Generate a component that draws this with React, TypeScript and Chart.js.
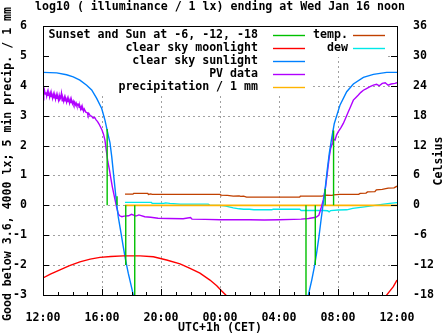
import React, { useEffect, useRef } from "react";
import { Chart, registerables } from "chart.js";

Chart.register(...registerables);

const FONT = "'DejaVu Sans Mono', 'Liberation Mono', monospace";

// x = hours since 12:00 on the previous day
const xTickLabels = ["12:00", "16:00", "20:00", "00:00", "04:00", "08:00", "12:00"];

const titleText = "log10 ( illuminance / 1 lx) ending at Wed Jan 16 noon";
const yTitle = "Good below 3.6, 4000 lx; 5 min precip. / 1 mm";
const y2Title = "Celsius";
const xTitle = "UTC+1h (CET)";

// Sunset and Sun at -6, -12, -18 (impulses from 0)
const twilightT = [4.35, 5.02, 5.61, 6.22, 17.83, 18.46, 19.13, 19.7];
const twilightV = [2.55, 0.3, -2.0, -3.5, -3.5, -2.0, 0.55, 2.5];

// clear sky moonlight
const moonT = [0, 0.5, 1.15, 1.8, 2.5, 3.2, 3.86, 4.6, 5.44, 6.58, 7.48, 8.38, 9.29, 9.97, 10.64, 11.32, 11.78, 12.1, 12.39, 12.6, null, 23.1, 23.3, 23.75, 24];
const moonV = [-2.43, -2.3, -2.16, -2.02, -1.89, -1.8, -1.74, -1.71, -1.69, -1.69, -1.72, -1.83, -1.96, -2.11, -2.27, -2.5, -2.69, -2.86, -3.0, -3.3, null, -3.3, -3.0, -2.72, -2.5];

// clear sky sunlight
const sunT = [0, 0.93, 1.6, 2.05, 2.5, 2.96, 3.3, 3.64, 3.98, 4.2, 4.42, 4.54, 4.66, 4.81, 4.95, 5.1, 5.29, 5.44, 5.6, 5.78, 5.97, 6.12, 6.3, null, 17.8, 17.99, 18.22, 18.4, 18.55, 18.71, 18.85, 19.0, 19.12, 19.27, 19.41, 19.57, 19.75, 20.14, 20.59, 21.04, 21.72, 22.4, 23.3, 24];
const sunV = [4.45, 4.43, 4.37, 4.3, 4.19, 4.02, 3.86, 3.58, 3.24, 2.85, 2.35, 2.1, 1.63, 0.91, 0.24, -0.38, -0.93, -1.38, -1.83, -2.27, -2.67, -3.0, -3.5, null, -3.5, -3.0, -2.5, -2.05, -1.6, -1.05, -0.49, 0.07, 0.51, 1.18, 1.74, 2.24, 2.74, 3.36, 3.8, 4.06, 4.28, 4.38, 4.45, 4.45];

// PV data
const pvT = [0, 0.05, 0.1, 0.15, 0.2, 0.25, 0.3, 0.35, 0.4, 0.45, 0.5, 0.55, 0.6, 0.65, 0.7, 0.75, 0.8, 0.85, 0.9, 0.95, 1.0, 1.05, 1.1, 1.15, 1.2, 1.25, 1.3, 1.35, 1.4, 1.45, 1.5, 1.55, 1.6, 1.65, 1.7, 1.75, 1.8, 1.85, 1.9, 1.95, 2.0, 2.05, 2.1, 2.15, 2.2, 2.25, 2.3, 2.4, 2.45, 2.5, 2.55, 2.6, 2.65, 2.7, 2.75, 2.8, 2.9, 3.0, 3.05, 3.1, 3.2, 3.3, 3.4, 3.5, 3.6, 3.7, 3.8, 3.9, 4.0, 4.1, 4.2, 4.3, 4.4, 4.5, 4.6, 4.7, 4.8, 4.9, 5.0, 5.1, 5.2, 5.35, 5.5, 5.8, 6.0, 6.3, 6.5, 6.9, 7.3, 7.8, 8.5, 9.5, 10.0, 10.1, 11.0, 12.0, 13.0, 14.0, 15.0, 16.0, 17.0, 17.5, 18.0, 18.5, 18.7, 18.85, 19.0, 19.16, 19.3, 19.41, 19.5, 19.6, 19.65, 19.7, 19.8, 19.9, 20.0, 20.2, 20.36, 20.5, 20.7, 20.85, 21.04, 21.2, 21.38, 21.55, 21.72, 21.9, 22.17, 22.4, 22.62, 22.8, 23.0, 23.2, 23.4, 23.6, 23.86, 24];
const pvV = [3.82, 3.7, 3.85, 3.72, 3.78, 3.65, 3.8, 3.68, 3.74, 3.62, 3.76, 3.64, 3.7, 3.58, 3.72, 3.6, 3.66, 3.55, 3.7, 3.58, 3.63, 3.52, 3.68, 3.55, 3.6, 3.75, 3.5, 3.58, 3.48, 3.62, 3.5, 3.55, 3.45, 3.58, 3.47, 3.52, 3.42, 3.55, 3.44, 3.5, 3.4, 3.48, 3.38, 3.45, 3.36, 3.42, 3.33, 3.38, 3.28, 3.32, 3.22, 3.3, 3.2, 3.25, 3.15, 3.22, 3.12, 3.1, 3.02, 3.08, 3.0, 2.98, 2.92, 2.94, 2.86, 2.8, 2.72, 2.62, 2.52, 2.38, 2.18, 1.8, 1.45, 1.2, 0.9, 0.62, 0.38, 0.15, -0.08, -0.28, -0.35, -0.38, -0.36, -0.35, -0.3, -0.36, -0.32, -0.38, -0.4, -0.43, -0.44, -0.45, -0.41, -0.46, -0.47, -0.48, -0.48, -0.48, -0.49, -0.48, -0.47, -0.46, -0.44, -0.4, -0.33, -0.1, 0.18, 0.62, 1.18, 1.63, 1.9, 2.05, 2.5, 2.2, 2.18, 2.35, 2.45, 2.6, 2.74, 2.9, 3.13, 3.3, 3.52, 3.6, 3.69, 3.78, 3.85, 3.9, 3.97, 4.02, 4.05, 4.0, 4.08, 4.1, 4.02, 4.06, 4.08, 4.1];

// precipitation / 1 mm
const precipT = [5.56, 24];
const precipV = [0, 0];

// temp. (Celsius)
const tempT = [5.56, 6.1, 6.15, 7.1, 7.15, 7.3, 7.4, 12.0, 12.05, 12.5, 12.9, 13.3, 13.4, 13.6, 13.8, 17.4, 17.45, 18.9, 19.2, 19.6, 19.7, 20.1, 21.4, 21.5, 21.9, 22.0, 22.5, 22.6, 23.0, 23.4, 23.8, 24];
const tempV = [2.25, 2.25, 2.4, 2.4, 2.2, 2.3, 2.2, 2.2, 2.05, 2.0, 1.85, 1.9, 1.8, 1.85, 1.65, 1.65, 1.85, 1.85, 2.05, 2.0, 2.1, 2.2, 2.2, 2.4, 2.45, 2.7, 2.75, 3.1, 3.2, 3.45, 3.5, 3.85];

// dew (Celsius)
const dewT = [5.56, 7.35, 7.4, 8.2, 8.3, 8.6, 9.3, 11.2, 11.3, 12.0, 12.4, 12.9, 13.3, 13.6, 14.0, 14.3, 15.5, 15.6, 17.4, 17.5, 19.0, 19.3, 19.4, 19.5, 20.0, 20.6, 21.0, 21.8, 22.5, 23.1, 23.5, 24];
const dewV = [0.6, 0.6, 0.4, 0.4, 0.5, 0.4, 0.25, 0.25, 0.05, 0.0, -0.15, -0.5, -0.7, -0.8, -0.8, -0.9, -0.9, -0.8, -0.8, -1.05, -1.05, -1.1, -1.3, -1.05, -0.95, -0.9, -0.6, -0.3, 0.0, 0.25, 0.4, 0.55];

const COLORS = {
  twilight: "#00c000",
  moon: "#ff0000",
  sun: "#0080ff",
  pv: "#b000ff",
  precip: "#ffb400",
  temp: "#c04000",
  dew: "#00e8e8",
};

const LW = 1.4;

function pts(t: (number | null)[], v: (number | null)[]) {
  return t.map((x, i) => ({ x: x === null ? NaN : x, y: v[i] }));
}

function impulses(t: number[], v: number[]) {
  const out: { x: number; y: number | null }[] = [];
  t.forEach((x, i) => {
    out.push({ x, y: 0 });
    out.push({ x, y: v[i] });
    out.push({ x, y: null });
  });
  return out;
}

const legendCol1 = [
  { label: "Sunset and Sun at -6, -12, -18", color: COLORS.twilight },
  { label: "clear sky moonlight", color: COLORS.moon },
  { label: "clear sky sunlight", color: COLORS.sun },
  { label: "PV data", color: COLORS.pv },
  { label: "precipitation / 1 mm", color: COLORS.precip },
];
const legendCol2 = [
  { label: "temp.", color: COLORS.temp },
  { label: "dew", color: COLORS.dew },
];

const gnuplotLook = {
  id: "gnuplotLook",
  beforeDatasetsDraw(chart: any) {
    const { ctx, chartArea: a, scales } = chart;
    const L = Math.round(a.left), R = Math.round(a.right), T = Math.round(a.top), B = Math.round(a.bottom);
    ctx.save();
    ctx.strokeStyle = "#a0a0a0";
    ctx.lineWidth = 1;
    ctx.setLineDash([2, 3]);
    for (let h = 4; h < 24; h += 4) {
      const x = Math.round(scales.x.getPixelForValue(h)) + 0.5;
      ctx.beginPath();
      ctx.moveTo(x, T);
      ctx.lineTo(x, B);
      ctx.stroke();
    }
    for (let v = -2; v <= 5; v++) {
      const y = Math.round(scales.y.getPixelForValue(v)) + 0.5;
      ctx.beginPath();
      ctx.moveTo(L, y);
      ctx.lineTo(R, y);
      ctx.stroke();
    }
    ctx.setLineDash([]);
    // opaque key background
    ctx.fillStyle = "#ffffff";
    ctx.fillRect(L + 5, T + 1, 262, 67);
    ctx.fillRect(L + 267, T + 1, 77, 30);
    ctx.restore();
  },
  afterDatasetsDraw(chart: any) {
    const { ctx, chartArea: a, scales } = chart;
    const L = Math.round(a.left), R = Math.round(a.right), T = Math.round(a.top), B = Math.round(a.bottom);
    ctx.save();
    ctx.strokeStyle = "#000";
    ctx.lineWidth = 1;
    ctx.setLineDash([]);
    // ticks
    ctx.beginPath();
    for (let h = 0; h <= 24; h++) {
      const x = Math.round(scales.x.getPixelForValue(h)) + 0.5;
      const len = h % 4 === 0 ? 6 : 3;
      ctx.moveTo(x, B);
      ctx.lineTo(x, B - len);
    }
    for (let v = -3; v <= 6; v++) {
      const y = Math.round(scales.y.getPixelForValue(v)) + 0.5;
      ctx.moveTo(L, y);
      ctx.lineTo(L + 6, y);
    }
    for (let v = -18; v <= 36; v += 6) {
      const y = Math.round(scales.y1.getPixelForValue(v)) + 0.5;
      ctx.moveTo(R, y);
      ctx.lineTo(R - 6, y);
    }
    ctx.stroke();
    // border
    ctx.strokeRect(L + 0.5, T + 0.5, R - L, B - T);

    // key
    ctx.font = `bold 11.6px ${FONT}`;
    ctx.fillStyle = "#000";
    ctx.textAlign = "right";
    ctx.textBaseline = "middle";
    ctx.lineWidth = LW;
    legendCol1.forEach((it, i) => {
      const y = T + 9 + i * 13;
      ctx.fillText(it.label, L + 215, y);
      ctx.strokeStyle = it.color;
      ctx.beginPath();
      ctx.moveTo(L + 230, y + 0.5);
      ctx.lineTo(L + 262, y + 0.5);
      ctx.stroke();
    });
    legendCol2.forEach((it, i) => {
      const y = T + 9 + i * 13;
      ctx.fillText(it.label, L + 305, y);
      ctx.strokeStyle = it.color;
      ctx.beginPath();
      ctx.moveTo(L + 310, y + 0.5);
      ctx.lineTo(L + 342, y + 0.5);
      ctx.stroke();
    });
    ctx.restore();
  },
  afterDraw(chart: any) {
    const { ctx, chartArea: a } = chart;
    ctx.save();
    ctx.fillStyle = "#000";
    ctx.font = `bold 11.6px ${FONT}`;
    ctx.textAlign = "center";
    ctx.textBaseline = "alphabetic";
    const cx = (a.left + a.right) / 2;
    ctx.fillText(titleText, cx, 10);
    ctx.textBaseline = "middle";
    ctx.fillText(xTitle, cx, 328);
    ctx.save();
    ctx.translate(8, 164);
    ctx.rotate(-Math.PI / 2);
    ctx.fillText(yTitle, 0, 0);
    ctx.restore();
    ctx.save();
    ctx.translate(439, 161);
    ctx.rotate(-Math.PI / 2);
    ctx.fillText(y2Title, 0, 0);
    ctx.restore();
    ctx.restore();
  },
};

export default function App() {
  const ref = useRef<HTMLCanvasElement | null>(null);
  useEffect(() => {
    if (!ref.current) return;
    const tickFont = { family: FONT, weight: "bold" as const, size: 11.6 };
    const line = (data: any[], color: string, axis: string, order: number, width = LW) => ({
      data,
      borderColor: color,
      backgroundColor: color,
      borderWidth: width,
      pointRadius: 0,
      tension: 0,
      spanGaps: false,
      fill: false,
      yAxisID: axis,
      order,
    });
    const chart = new Chart(ref.current, {
      type: "line",
      data: {
        datasets: [
          line(pts(dewT, dewV), COLORS.dew, "y1", 7),
          line(pts(tempT, tempV), COLORS.temp, "y1", 6),
          line(pts(precipT, precipV), COLORS.precip, "y", 5, 1.8),
          line(pts(pvT, pvV), COLORS.pv, "y", 4),
          line(pts(sunT, sunV), COLORS.sun, "y", 3),
          line(pts(moonT, moonV), COLORS.moon, "y", 2),
          line(impulses(twilightT, twilightV), COLORS.twilight, "y", 1),
        ] as any,
      },
      options: {
        animation: false,
        responsive: false,
        devicePixelRatio: 1,
        layout: { padding: { top: 26, left: 0, right: 0, bottom: 0 } },
        plugins: { legend: { display: false }, title: { display: false }, tooltip: { enabled: false } },
        events: [],
        scales: {
          x: {
            type: "linear",
            min: 0,
            max: 24,
            grid: { display: false },
            border: { display: false },
            afterFit: (s: any) => { s.height = 40; },
            ticks: {
              stepSize: 4,
              autoSkip: false,
              maxRotation: 0,
              padding: 8,
              color: "#000",
              font: tickFont,
              callback: (v: any) => xTickLabels[Math.round(Number(v) / 4)] ?? "",
            },
          },
          y: {
            type: "linear",
            position: "left",
            min: -3,
            max: 6,
            grid: { display: false },
            border: { display: false },
            afterFit: (s: any) => { s.width = 43; },
            ticks: { stepSize: 1, padding: 8, color: "#000", font: tickFont },
          },
          y1: {
            type: "linear",
            position: "right",
            min: -18,
            max: 36,
            grid: { display: false },
            border: { display: false },
            afterFit: (s: any) => { s.width = 50; },
            ticks: { stepSize: 6, padding: 8, color: "#000", font: tickFont },
          },
        },
      } as any,
      plugins: [gnuplotLook],
    });
    return () => chart.destroy();
  }, []);
  return (
    <div style={{ position: "absolute", left: 0, top: 0, width: 447, height: 335, background: "#fff" }}>
      <canvas ref={ref} width={447} height={335} style={{ width: 447, height: 335, display: "block" }} />
    </div>
  );
}
